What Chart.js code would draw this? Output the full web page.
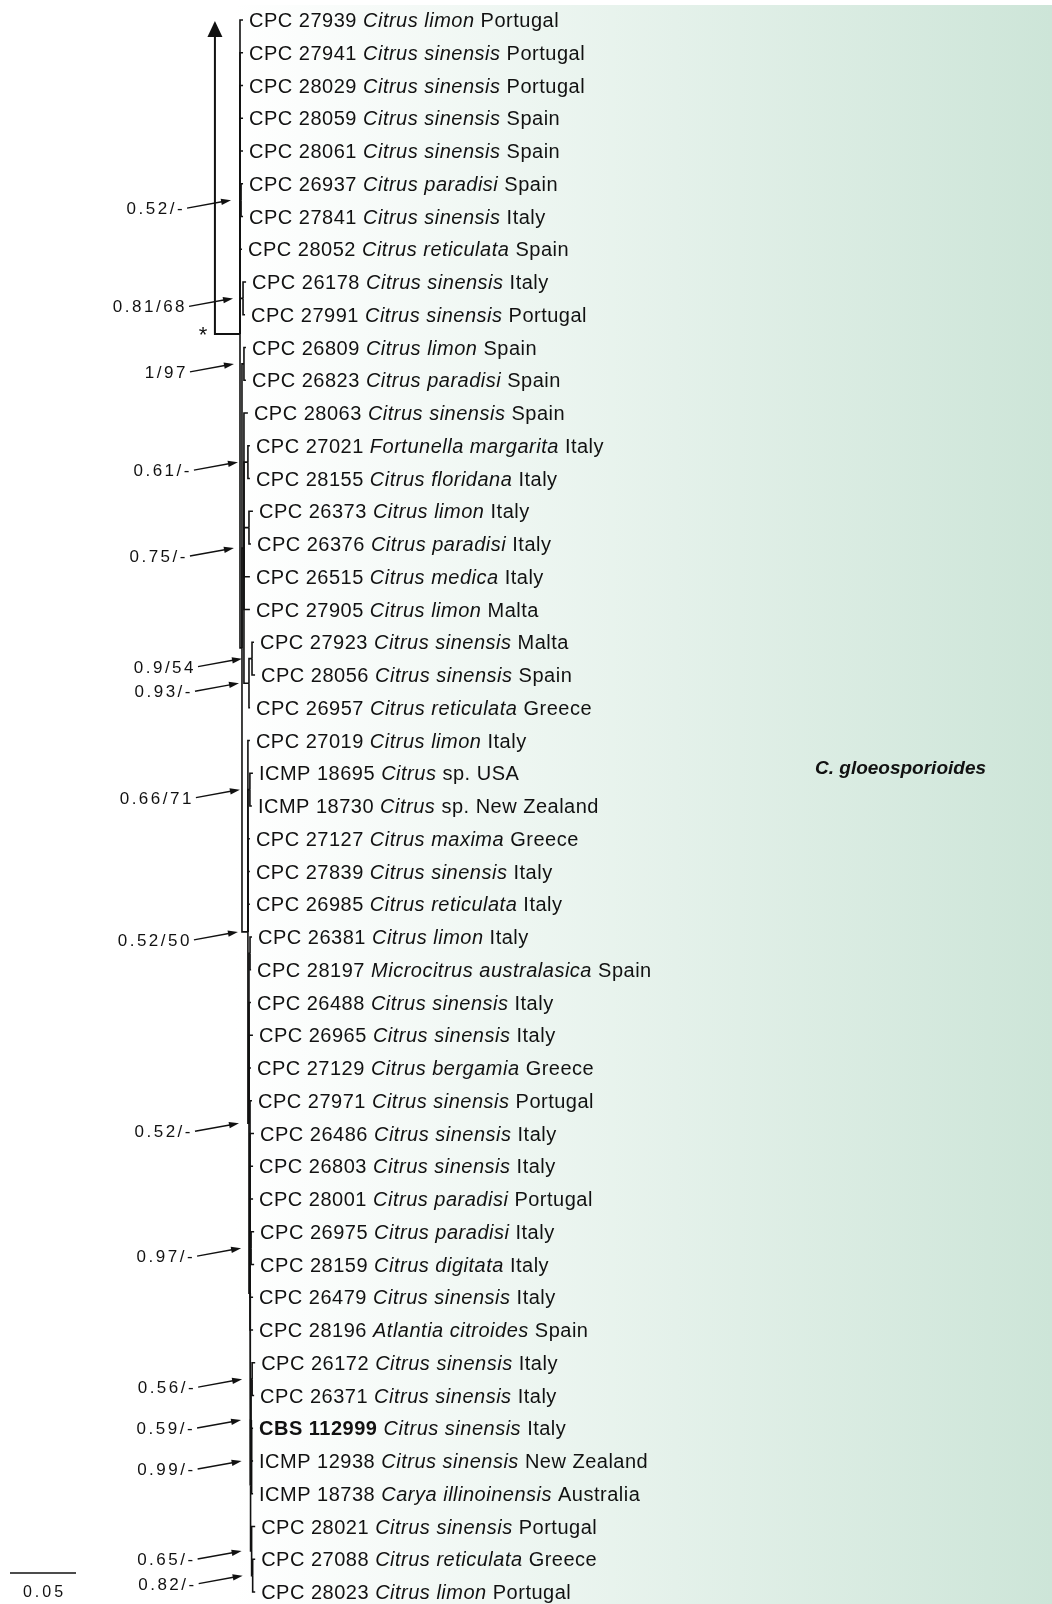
<!DOCTYPE html>
<html>
<head>
<meta charset="utf-8">
<script src="https://cdn.jsdelivr.net/npm/chart.js@4.4.0/dist/chart.umd.min.js"></script>
<style>
  html, body { margin: 0; padding: 0; background: #fff; }
  #tree { display: block; }
</style>
</head>
<body>
<canvas id="tree" width="1052" height="1604"></canvas>
<script>
// tips, top to bottom -------------------------------------------
const tipCode = ['CPC 27939', 'CPC 27941', 'CPC 28029', 'CPC 28059', 'CPC 28061', 'CPC 26937', 'CPC 27841',
  'CPC 28052', 'CPC 26178', 'CPC 27991', 'CPC 26809', 'CPC 26823', 'CPC 28063', 'CPC 27021', 'CPC 28155',
  'CPC 26373', 'CPC 26376', 'CPC 26515', 'CPC 27905', 'CPC 27923', 'CPC 28056', 'CPC 26957', 'CPC 27019',
  'ICMP 18695', 'ICMP 18730', 'CPC 27127', 'CPC 27839', 'CPC 26985', 'CPC 26381', 'CPC 28197', 'CPC 26488',
  'CPC 26965', 'CPC 27129', 'CPC 27971', 'CPC 26486', 'CPC 26803', 'CPC 28001', 'CPC 26975', 'CPC 28159',
  'CPC 26479', 'CPC 28196', 'CPC 26172', 'CPC 26371', 'CBS 112999', 'ICMP 12938', 'ICMP 18738', 'CPC 28021',
  'CPC 27088', 'CPC 28023'];
const tipHost = ['Citrus limon', 'Citrus sinensis', 'Citrus sinensis', 'Citrus sinensis', 'Citrus sinensis',
  'Citrus paradisi', 'Citrus sinensis', 'Citrus reticulata', 'Citrus sinensis', 'Citrus sinensis', 'Citrus limon',
  'Citrus paradisi', 'Citrus sinensis', 'Fortunella margarita', 'Citrus floridana', 'Citrus limon',
  'Citrus paradisi', 'Citrus medica', 'Citrus limon', 'Citrus sinensis', 'Citrus sinensis', 'Citrus reticulata',
  'Citrus limon', 'Citrus sp.', 'Citrus sp.', 'Citrus maxima', 'Citrus sinensis', 'Citrus reticulata',
  'Citrus limon', 'Microcitrus australasica', 'Citrus sinensis', 'Citrus sinensis', 'Citrus bergamia',
  'Citrus sinensis', 'Citrus sinensis', 'Citrus sinensis', 'Citrus paradisi', 'Citrus paradisi', 'Citrus digitata',
  'Citrus sinensis', 'Atlantia citroides', 'Citrus sinensis', 'Citrus sinensis', 'Citrus sinensis',
  'Citrus sinensis', 'Carya illinoinensis', 'Citrus sinensis', 'Citrus reticulata', 'Citrus limon'];
const tipCountry = ['Portugal', 'Portugal', 'Portugal', 'Spain', 'Spain', 'Spain', 'Italy', 'Spain', 'Italy',
  'Portugal', 'Spain', 'Spain', 'Spain', 'Italy', 'Italy', 'Italy', 'Italy', 'Italy', 'Malta', 'Malta', 'Spain',
  'Greece', 'Italy', 'USA', 'New Zealand', 'Greece', 'Italy', 'Italy', 'Italy', 'Spain', 'Italy', 'Italy',
  'Greece', 'Portugal', 'Italy', 'Italy', 'Portugal', 'Italy', 'Italy', 'Italy', 'Spain', 'Italy', 'Italy',
  'Italy', 'New Zealand', 'Australia', 'Portugal', 'Greece', 'Portugal'];

// tree: parent node of each tip and its branch length
const tipParent = [0, 0, 0, 0, 0, 1, 1, 0, 2, 2, 4, 4, 5, 6, 6, 7, 7, 5, 5, 9, 9, 8, 10, 11, 11, 10, 10, 10,
  13, 13, 12, 12, 12, 14, 14, 14, 14, 15, 15, 14, 14, 18, 18, 19, 19, 19, 20, 21, 21];
const tipLength = [0.0023, 0.0023, 0.0023, 0.0023, 0.0023, 0.0015, 0.0015, 0.0015, 0.0023, 0.0015, 0.0015,
  0.0015, 0.003, 0.0015, 0.0015, 0.003, 0.0015, 0.0045, 0.0045, 0.0015, 0.0023, 0.0008, 0.0015, 0.0023, 0.0015,
  0.0015, 0.0015, 0.0015, 0.0015, 0.0008, 0.0015, 0.003, 0.0015, 0.0015, 0.003, 0.0023, 0.0023, 0.0023, 0.0023,
  0.0023, 0.0023, 0.0023, 0.0015, 0.0011, 0.0011, 0.0011, 0.0027, 0.0019, 0.0019];

// internal nodes (0 = clade root, marked *)
const nodeParent = [-1, 0, 0, 0, 3, 3, 5, 5, 5, 8, 3, 10, 10, 12, 12, 14, 14, 16, 17, 17, 16, 20];
const nodeLength = [0, 0.0008, 0.0023, 0.0015, 0.0015, 0.0015, 0.003, 0.0038, 0.0038, 0.0023, 0.0045, 0.0015,
  0.0008, 0.0008, 0.0008, 0.0008, 0.0004, 0.0004, 0.0008, 0.0004, 0.0008, 0.0008];
const nodeSupport = ['', '0.52/-', '0.81/68', '', '1/97', '0.75/-', '0.61/-', '', '0.93/-', '0.9/54', '0.52/50',
  '0.66/71', '0.52/-', '', '', '0.97/-', '', '0.59/-', '0.56/-', '0.99/-', '0.65/-', '0.82/-'];

const stemLength = 0.019;   // truncated branch towards the rest of the tree
const scaleBar = 0.05;
const cladeName = 'C. gloeosporioides';
const typeStrain = 'CBS 112999';

// layout ----------------------------------------------------------
const nodeX = nodeLength.slice();
for (let i = 1; i < nodeParent.length; i++) nodeX[i] = nodeX[nodeParent[i]] + nodeLength[i];
const tipX = tipParent.map((p, i) => nodeX[p] + tipLength[i]);

const kids = nodeParent.map(() => []);
nodeParent.forEach((p, i) => { if (p >= 0) kids[p].push({ n: i }); });
tipParent.forEach((p, i) => kids[p].push({ t: i }));

function minTip(c) {
  if (c.t !== undefined) return c.t;
  return Math.min(...kids[c.n].map(minTip));
}
const nodeY = [];
function placeY(n) {
  kids[n].sort((a, b) => minTip(a) - minTip(b));
  const ys = kids[n].map(c => c.t !== undefined ? c.t : placeY(c.n));
  nodeY[n] = (ys[0] + ys[ys.length - 1]) / 2;
  return nodeY[n];
}
placeY(0);

const lineStyle = {
  showLine: true, borderColor: '#111', borderWidth: 1.6, pointRadius: 0,
  fill: false, tension: 0, borderJoinStyle: 'miter', borderCapStyle: 'butt'
};
const datasets = [];
kids.forEach((list, n) => list.forEach(c => {
  const cx = c.t !== undefined ? tipX[c.t] : nodeX[c.n];
  const cy = c.t !== undefined ? c.t : nodeY[c.n];
  datasets.push(Object.assign({
    data: [{ x: nodeX[n], y: nodeY[n] }, { x: nodeX[n], y: cy }, { x: cx, y: cy }]
  }, lineStyle));
}));
// stem to the rest of the tree
datasets.push(Object.assign({
  data: [{ x: 0, y: nodeY[0] }, { x: -stemLength, y: nodeY[0] }, { x: -stemLength, y: 0.1 }]
}, lineStyle, { borderWidth: 2 }));

const pxPerUnit = 66 / scaleBar;
const rowPx = 32.75;

function drawParts(ctx, x, y, parts) {
  parts.forEach(p => {
    ctx.font = p.font;
    ctx.fillText(p.text, x, y);
    x += ctx.measureText(p.text).width;
  });
}

const treeDecor = {
  id: 'treeDecor',
  beforeDraw(chart) {
    const ctx = chart.ctx;
    const g = ctx.createLinearGradient(235, 0, chart.width, 0);
    g.addColorStop(0, '#ffffff');
    g.addColorStop(1, '#cde5d8');
    ctx.save();
    ctx.fillStyle = g;
    ctx.fillRect(235, 5, chart.width - 235, chart.height - 5);
    ctx.restore();
  },
  afterDatasetsDraw(chart) {
    const ctx = chart.ctx;
    const xs = chart.scales.x, ys = chart.scales.y;
    const fam = '"Liberation Sans", Arial, sans-serif';
    const size = '20px ';
    ctx.save();
    ctx.fillStyle = '#111';
    ctx.strokeStyle = '#111';
    ctx.textBaseline = 'alphabetic';

    // tip labels
    ctx.letterSpacing = '0.5px';
    tipCode.forEach((code, i) => {
      const x = xs.getPixelForValue(tipX[i]) + 6;
      const y = ys.getPixelForValue(i) + 7;
      const host = tipHost[i];
      const parts = [{ text: code + ' ', font: (code === typeStrain ? 'bold ' : '') + size + fam }];
      if (host.endsWith(' sp.')) {
        parts.push({ text: host.slice(0, -4), font: 'italic ' + size + fam });
        parts.push({ text: ' sp. ', font: size + fam });
      } else {
        parts.push({ text: host, font: 'italic ' + size + fam });
        parts.push({ text: ' ', font: size + fam });
      }
      parts.push({ text: tipCountry[i], font: size + fam });
      drawParts(ctx, x, y, parts);
    });

    // support values with arrows
    ctx.letterSpacing = '2.5px';
    ctx.font = '17px ' + fam;
    ctx.textAlign = 'right';
    ctx.lineWidth = 1.5;
    nodeSupport.forEach((s, n) => {
      if (!s) return;
      const hx = xs.getPixelForValue(nodeX[n]) - 10;
      const hy = ys.getPixelForValue(nodeY[n]);
      const tx = hx - 44, ty = hy + 8;
      const a = Math.atan2(hy - ty, hx - tx);
      ctx.beginPath();
      ctx.moveTo(tx, ty);
      ctx.lineTo(hx - 8 * Math.cos(a), hy - 8 * Math.sin(a));
      ctx.stroke();
      ctx.beginPath();
      ctx.moveTo(hx, hy);
      ctx.lineTo(hx - 10 * Math.cos(a) + 3.2 * Math.sin(a), hy - 10 * Math.sin(a) - 3.2 * Math.cos(a));
      ctx.lineTo(hx - 10 * Math.cos(a) - 3.2 * Math.sin(a), hy - 10 * Math.sin(a) + 3.2 * Math.cos(a));
      ctx.closePath();
      ctx.fill();
      ctx.fillText(s, tx - 2, ty + 6);
    });

    // root marker and arrow up the stem
    const sx = xs.getPixelForValue(-stemLength);
    const top = ys.getPixelForValue(0);
    ctx.beginPath();
    ctx.moveTo(sx, top + 1);
    ctx.lineTo(sx - 7.5, top + 17);
    ctx.lineTo(sx + 7.5, top + 17);
    ctx.closePath();
    ctx.fill();
    ctx.letterSpacing = '0px';
    ctx.textAlign = 'center';
    ctx.font = '22px ' + fam;
    ctx.fillText('*', sx - 12, ys.getPixelForValue(nodeY[0]) + 8);

    // scale bar
    const bx0 = 10;
    const bx1 = bx0 + (xs.getPixelForValue(scaleBar) - xs.getPixelForValue(0));
    const by = ys.getPixelForValue(tipCode.length - 1) - 19;
    ctx.lineWidth = 1.5;
    ctx.beginPath();
    ctx.moveTo(bx0, by);
    ctx.lineTo(bx1, by);
    ctx.stroke();
    ctx.letterSpacing = '3px';
    ctx.font = '16px ' + fam;
    ctx.fillText(String(scaleBar), (bx0 + bx1) / 2 + 1.5, by + 24);

    // clade name
    ctx.letterSpacing = '0px';
    ctx.textAlign = 'left';
    ctx.font = 'italic bold 19px ' + fam;
    ctx.fillText(cladeName, 815, ys.getPixelForValue(22.8) + 7);
    ctx.restore();
  }
};

new Chart(document.getElementById('tree'), {
  type: 'scatter',
  data: { datasets: datasets },
  options: {
    responsive: false,
    animation: false,
    devicePixelRatio: 1,
    layout: { padding: 0 },
    plugins: { legend: { display: false }, tooltip: { enabled: false } },
    scales: {
      x: { type: 'linear', display: false, min: -240 / pxPerUnit, max: (1052 - 240) / pxPerUnit },
      y: { type: 'linear', display: false, reverse: true, min: -20 / rowPx, max: (1604 - 20) / rowPx }
    }
  },
  plugins: [treeDecor]
});
</script>
</body>
</html>
